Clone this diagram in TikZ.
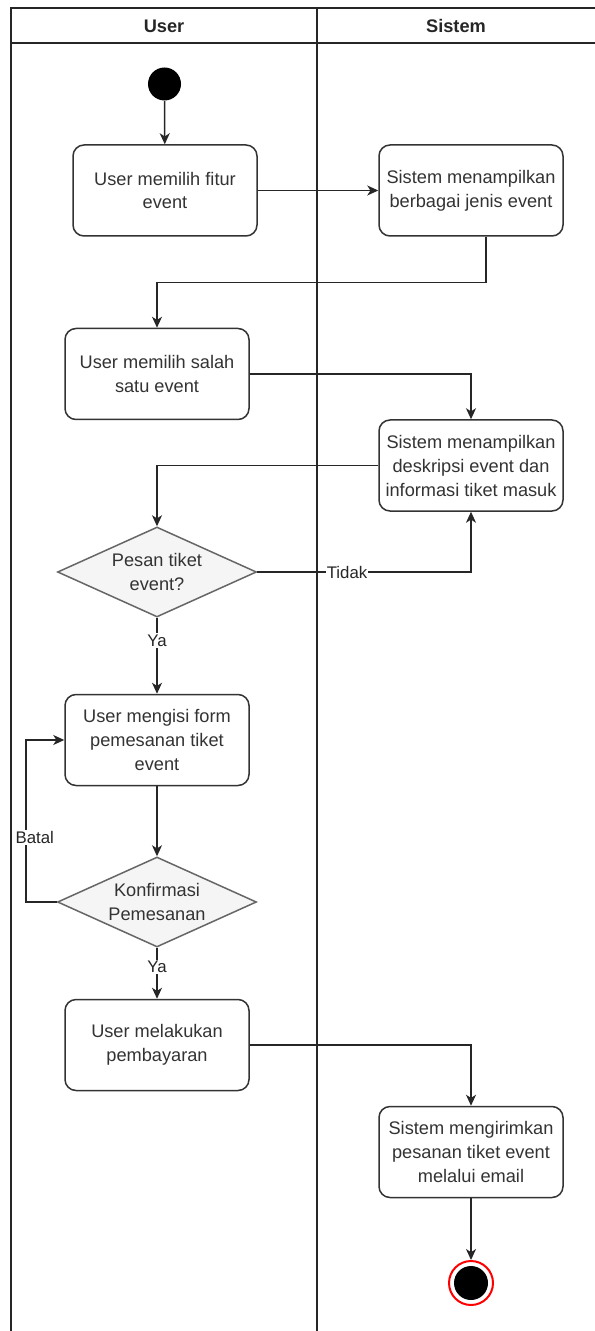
\documentclass[tikz,border=0pt]{standalone}
\usepackage{fontspec}
\setmainfont{Liberation Sans}
\usetikzlibrary{arrows.meta,shapes.geometric}
\definecolor{txt}{HTML}{333333}
\definecolor{dfill}{HTML}{F5F5F5}
\definecolor{dline}{HTML}{666666}
\begin{document}
\begin{tikzpicture}[x=0.5pt,y=-0.5pt,
  lane/.style={draw=black!85, line width=0.8pt},
  actbox/.style={draw=black!80, line width=0.75pt, fill=white, rounded corners=5.5pt,
    minimum width=92pt, minimum height=45.5pt, inner sep=2pt, align=center,
    text=txt, font=\fontsize{9.1}{12}\selectfont},
  decision/.style={diamond, draw=dline, line width=0.75pt, fill=dfill,
    minimum width=99.5pt, minimum height=45pt, inner sep=0pt},
  dtext/.style={align=center, text=txt, font=\fontsize{9.1}{12}\selectfont},
  flow/.style={draw=black!85, line width=0.75pt,
    -{Stealth[length=5.5pt,width=5pt,inset=1.6pt]}},
  lbl/.style={fill=white, inner sep=0.6pt, text=black!85, font=\fontsize{8.4}{10}\selectfont},
  head/.style={font=\bfseries\fontsize{9.1}{11}\selectfont, text=black!85}]
\useasboundingbox (0,0) rectangle (594,1331);

% swimlanes
\draw[lane] (11,1345) -- (11,8) -- (600,8);
\draw[lane] (11,43) -- (600,43);
\draw[lane] (317,8) -- (317,1345);
\node[head] (hUser) at (164,26) {User};
\node[head] (hSys) at (456,26) {Sistem};

% activity nodes
\node[circle, fill=black, minimum size=16.5pt, inner sep=0pt] (start) at (164.5,84) {};
\node[actbox] (a1) at (165,190.5) {User memilih fitur\\event};
\node[actbox] (a2) at (471,190.5) {Sistem menampilkan\\berbagai jenis event};
\node[actbox] (a3) at (157,374) {User memilih salah\\satu event};
\node[actbox] (a4) at (471,465.5) {Sistem menampilkan\\deskripsi event dan\\informasi tiket masuk};
\node[decision] (d1) at (157,572) {};
\node[dtext] (d1t) at (d1.center) {Pesan tiket\\event?};
\node[actbox] (a5) at (157,740) {User mengisi form\\pemesanan tiket\\event};
\node[decision] (d2) at (157,902) {};
\node[dtext] (d2t) at (d2.center) {Konfirmasi\\Pemesanan};
\node[actbox] (a6) at (157,1045) {User melakukan\\pembayaran};
\node[actbox] (a7) at (471,1152) {Sistem mengirimkan\\pesanan tiket event\\melalui email};
\node[circle, draw=red, line width=1pt, fill=white, minimum size=22pt, inner sep=0pt] (fin) at (471,1283) {};
\fill[black] (fin.center) circle (8.5pt);

% control flow
\draw[flow] (start) -- (a1);
\draw[flow] (a1) -- (a2);
\draw[flow] ([xshift=7.5pt]a2.south) -- ++(0,46) -| (a3.north);
\draw[flow] (a3.east) -| (a4.north);
\draw[flow] (a4.west) -| (d1.north);
\draw[flow] (d1.east) -| node[lbl,pos=0.21]{Tidak} (a4.south);
\draw[flow] (d1.south) -- node[lbl,pos=0.3]{Ya} (a5.north);
\draw[flow] (a5.south) -- (d2.north);
\draw[flow] (d2.west) -- ++(-31,0) |- node[lbl,pos=0.2,xshift=4.5pt]{Batal} (a5.west);
\draw[flow] (d2.south) -- node[lbl,pos=0.38]{Ya} (a6.north);
\draw[flow] (a6.east) -| (a7.north);
\draw[flow] (a7.south) -- (fin.north);
\end{tikzpicture}
\end{document}
